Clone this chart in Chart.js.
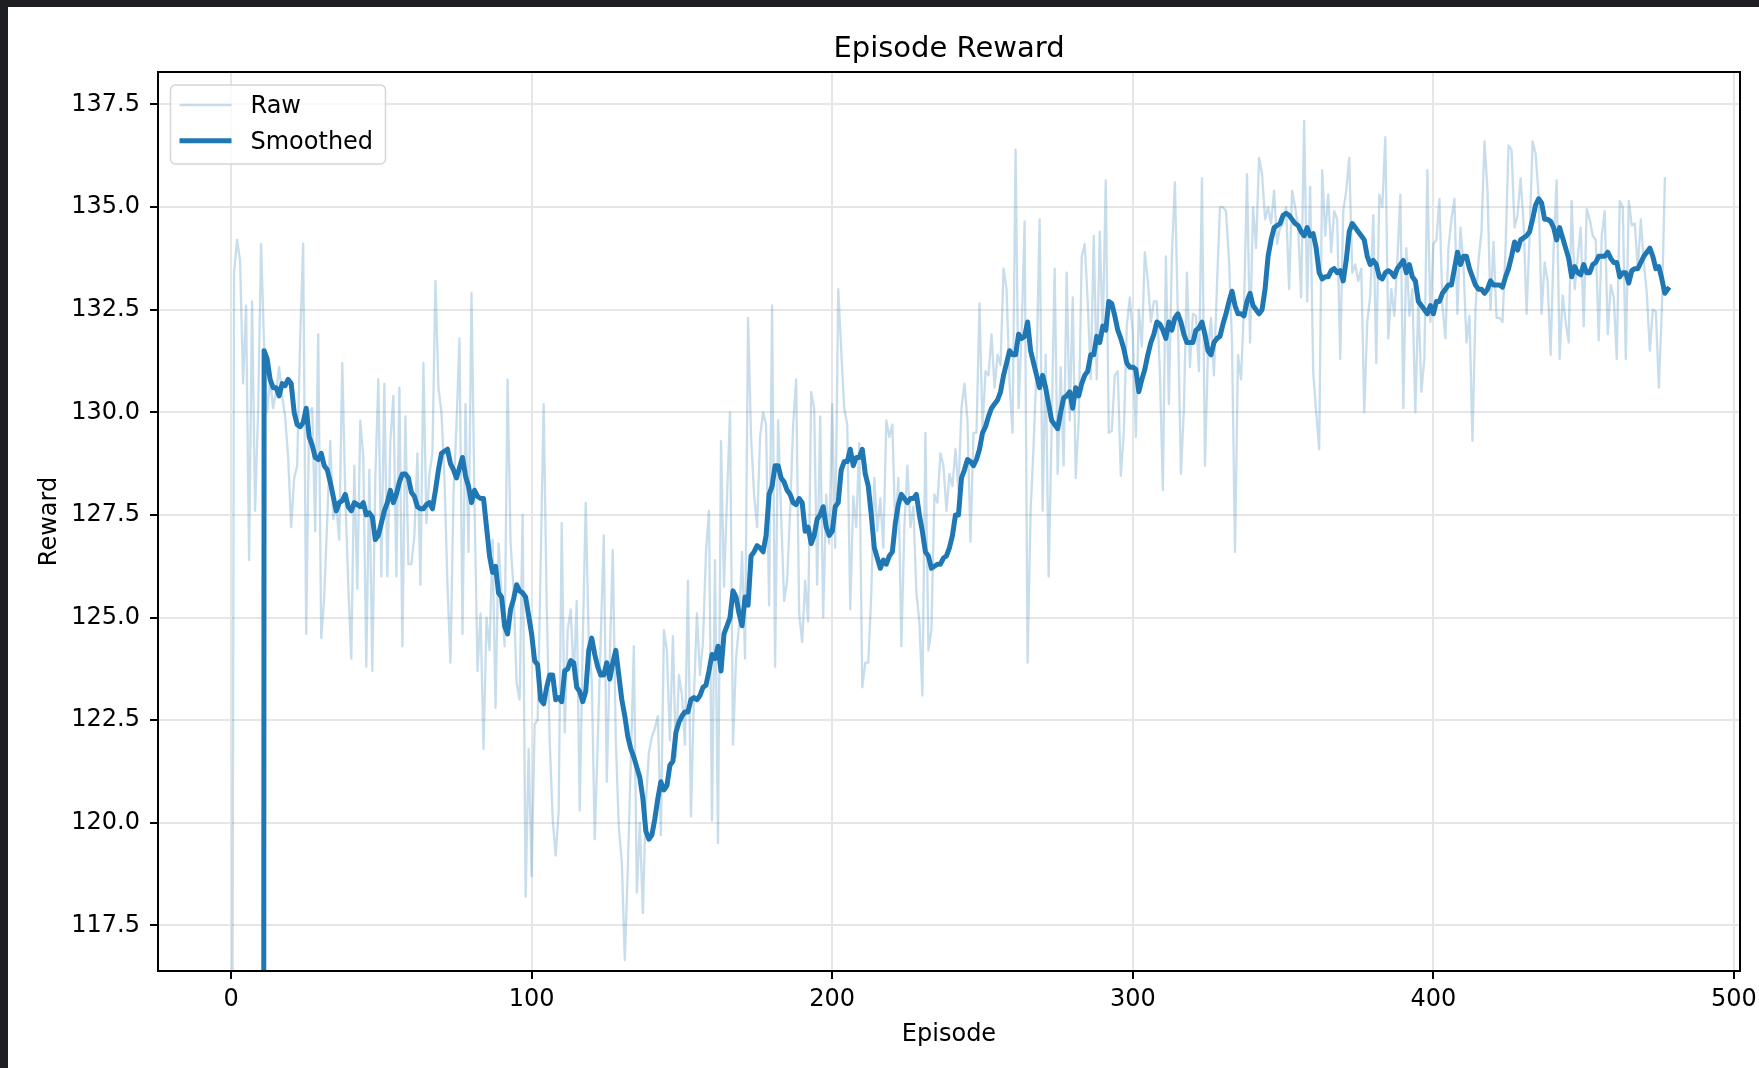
<!DOCTYPE html>
<html>
<head>
<meta charset="utf-8">
<script src="https://cdn.jsdelivr.net/npm/chart.js@4.4.1/dist/chart.umd.min.js"></script>
<style>
  html, body { margin: 0; padding: 0; background: #1e1f22; overflow: hidden; }
  #wrap { position: absolute; left: 8px; top: 7px; width: 1751px; height: 1061px; background: #fff; }
  canvas { display: block; }
</style>
</head>
<body>
<div id="wrap"><canvas id="chart" width="1751" height="1061"></canvas></div>
<script>
// reward per episode (index = episode)
const rawReward = [
  100, 133.4, 134.2, 133.7, 130.7, 132.6, 126.4, 132.7, 127.6, 130.0,
  134.1, 131.6, 130.0, 130.8, 130.1, 130.5, 131.1, 130.4, 129.9, 128.9,
  127.2, 128.4, 128.7, 131.8, 134.1, 124.6, 130.0, 130.1, 127.1, 131.9,
  124.5, 125.5, 127.4, 129.3, 127.4, 127.7, 126.9, 131.2, 128.0, 125.8,
  124.0, 128.7, 125.7, 129.8, 128.9, 123.8, 128.6, 123.7, 128.4, 130.8,
  126.0, 130.7, 126.0, 129.3, 130.4, 126.0, 130.6, 124.3, 129.9, 126.3,
  126.3, 127.0, 129.0, 125.8, 131.2, 127.3, 128.5, 129.0, 133.2, 130.6,
  130.0, 128.4, 125.8, 123.9, 128.0, 129.7, 131.8, 124.6, 130.2, 126.6,
  132.9, 127.8, 123.7, 125.1, 121.8, 125.0, 124.2, 126.9, 122.8, 126.8,
  125.5, 124.3, 130.8, 126.8, 125.7, 123.4, 123.0, 127.5, 118.2, 121.8,
  118.7, 122.4, 122.5, 126.3, 130.2, 125.4, 122.0, 120.1, 119.2, 120.3,
  127.3, 122.2, 124.7, 125.2, 123.5, 125.4, 120.3, 124.4, 127.8, 124.4,
  123.5, 119.6, 122.0, 124.5, 127.0, 121.0, 124.0, 126.65, 122.0, 119.9,
  119.05, 116.65, 118.9, 121.5, 124.3, 118.3, 120.0, 117.8, 120.5, 121.7,
  122.1, 122.3, 122.6, 119.7, 124.7, 124.2, 122.0, 124.55, 121.6, 123.6,
  123.1, 121.9, 125.9, 120.15, 123.1, 125.1, 123.6, 124.4, 126.6, 127.6,
  120.05, 126.4, 119.5, 129.3, 125.75, 127.9, 130.0, 121.9, 124.0, 124.8,
  126.6, 124.0, 132.3, 129.4, 128.0, 127.2, 129.4, 130.0, 129.7, 125.3,
  132.6, 123.8, 129.8, 127.5, 125.4, 125.9, 127.6, 129.7, 130.8, 125.1,
  124.4, 125.9, 124.9, 130.5, 130.1, 125.8, 129.9, 125.0, 128.0, 126.8,
  130.2, 126.7, 133.0, 131.5, 130.1, 129.7, 125.2, 127.95, 127.2, 129.25,
  123.3, 123.9, 123.9, 125.6, 128.4, 127.1, 127.9, 126.7, 129.8, 129.4,
  129.7, 127.1, 128.4, 124.3, 127.2, 128.7, 127.2, 127.7, 125.6, 124.9,
  123.1, 129.5, 124.2, 124.7, 128.0, 127.8, 129.0, 128.7, 127.6, 128.5,
  128.2, 129.1, 128.1, 130.1, 130.7, 129.8, 126.85, 129.5, 129.5, 132.65,
  129.6, 131.0, 130.9, 131.9, 130.6, 131.4, 131.15, 133.5, 133.0, 130.7,
  129.5, 136.4, 130.1, 131.9, 134.65, 123.9, 127.6, 129.2, 131.15, 134.7,
  127.6, 131.4, 126.0, 129.6, 133.5, 128.5, 131.1, 128.7, 133.4, 129.8,
  132.8, 128.4, 129.8, 133.8, 134.1, 132.7, 130.8, 134.3, 130.8, 134.4,
  131.85, 135.65, 129.5, 129.55, 130.9, 131.0, 128.45, 129.5, 132.1, 132.8,
  131.9, 129.4, 132.5, 131.6, 133.9, 133.2, 132.2, 132.7, 132.7, 131.0,
  128.1, 133.8, 130.2, 133.8, 135.6, 132.35, 128.5, 130.1, 133.4, 131.1,
  132.4, 132.35, 131.0, 135.7, 128.7, 131.45, 132.3, 130.9, 133.1, 135.0,
  135.0, 134.9, 133.7, 131.7, 126.6, 131.4, 130.8, 132.6, 135.8, 131.7,
  135.0, 134.0, 136.2, 135.8, 134.7, 135.0, 134.6, 135.4, 134.1, 134.5,
  134.6, 135.0, 133.0, 135.4, 135.0, 134.5, 132.8, 137.1, 132.7, 135.5,
  131.0, 130.0, 129.1, 135.9, 134.3, 135.3, 133.9, 134.9, 134.7, 131.3,
  134.9, 135.4, 136.2, 133.4, 133.6, 133.2, 133.5, 130.0, 132.2, 132.85,
  134.8, 131.2, 135.3, 135.0, 136.7, 131.8, 133.0, 132.35, 133.7, 135.3,
  130.1, 134.0, 132.35, 133.0, 130.0, 132.8, 130.5, 131.3, 135.9, 132.2,
  134.1, 134.2, 135.2, 132.6, 131.8, 134.0, 134.7, 135.2, 132.4, 134.5,
  133.6, 131.7, 132.35, 129.3, 132.5, 133.7, 134.4, 136.6, 135.4, 132.5,
  134.15, 132.3, 132.3, 132.2, 134.0, 136.5, 136.4, 134.5, 134.8, 135.7,
  134.6, 132.4, 134.3, 136.6, 136.3, 135.3, 132.4, 133.65, 133.2, 131.4,
  134.0, 135.65, 131.3, 132.85, 132.2, 131.7, 135.15, 133.0, 133.75, 134.5,
  132.1, 134.95, 134.7, 134.3, 134.2, 131.75, 134.3, 134.9, 131.9, 133.1,
  132.8, 131.3, 135.15, 135.0, 131.3, 135.15, 134.55, 134.6, 133.5, 134.7,
  133.65, 132.9, 131.5, 132.5, 132.45, 130.6, 132.5, 135.7
];

// smoothed curve (index = episode), zero until the window fills
const smoothReward = [
  0, 0, 0, 0, 0, 0, 0, 0, 0, 0, 0,
  131.5, 131.3, 130.8, 130.6, 130.6, 130.4, 130.7, 130.65, 130.8,
  130.7, 130.0, 129.7, 129.65, 129.75, 130.1, 129.4, 129.2, 128.9, 128.85,
  129.0, 128.7, 128.6, 128.3, 127.95, 127.6, 127.8, 127.85, 128.0, 127.7,
  127.6, 127.8, 127.75, 127.7, 127.8, 127.5, 127.55, 127.45, 126.9, 127.0,
  127.3, 127.6, 127.8, 128.1, 127.8, 128.0, 128.3, 128.5, 128.5, 128.4,
  128.05, 127.95, 127.7, 127.65, 127.65, 127.75, 127.8, 127.65, 128.1, 128.6,
  129.0, 129.05, 129.1, 128.75, 128.6, 128.4, 128.65, 128.9, 128.45, 128.2,
  127.8, 128.1, 127.95, 127.9, 127.9, 127.2, 126.5, 126.1, 126.25, 125.6,
  125.5, 124.8, 124.6, 125.2, 125.45, 125.8, 125.65, 125.6, 125.5, 125.05,
  124.6, 123.95, 123.85, 123.0, 122.9, 123.3, 123.6, 123.6, 123.0, 123.05,
  122.95, 123.7, 123.75, 123.95, 123.9, 123.3, 123.2, 122.95, 123.2, 124.2,
  124.5, 124.1, 123.8, 123.6, 123.6, 123.9, 123.5, 123.9, 124.2, 123.6,
  123.0, 122.6, 122.1, 121.8, 121.6, 121.35, 121.1, 120.6, 119.8, 119.6,
  119.7, 120.1, 120.6, 121.0, 120.8, 120.9, 121.4, 121.5, 122.2, 122.45,
  122.6, 122.7, 122.7, 123.0, 123.05, 123.0, 123.1, 123.3, 123.35, 123.7,
  124.1, 124.0, 124.3, 123.7, 124.6, 124.8, 125.0, 125.65, 125.5, 125.1,
  124.8, 125.5, 125.3, 126.5, 126.6, 126.75, 126.7, 126.6, 127.0, 128.0,
  128.2, 128.7, 128.7, 128.4, 128.3, 128.1, 128.0, 127.8, 127.75, 127.9,
  127.8, 127.1, 127.2, 126.8, 127.0, 127.4, 127.5, 127.7, 127.2, 127.0,
  127.1, 127.7, 127.8, 128.6, 128.8, 128.8, 129.1, 128.7, 128.9, 128.9,
  129.1, 128.5, 128.2, 127.5, 126.7, 126.45, 126.2, 126.4, 126.3, 126.5,
  126.6, 127.3, 127.75, 128.0, 127.9, 127.8, 127.9, 127.9, 128.0, 127.5,
  127.1, 126.6, 126.5, 126.2, 126.25, 126.3, 126.3, 126.45, 126.5, 126.7,
  127.0, 127.5, 127.5, 128.4, 128.6, 128.85, 128.8, 128.7, 128.85, 129.1,
  129.5, 129.65, 129.9, 130.1, 130.2, 130.3, 130.5, 130.9, 131.2, 131.5,
  131.4, 131.4, 131.9, 131.8, 131.85, 132.2, 131.5, 131.2, 130.9, 130.6,
  130.9, 130.6, 130.2, 129.8, 129.7, 129.6, 130.0, 130.35, 130.4, 130.5,
  130.1, 130.6, 130.4, 130.7, 130.9, 131.0, 131.4, 131.4, 131.85, 131.7,
  132.1, 132.0, 132.7, 132.65, 132.35, 132.0, 131.8, 131.55, 131.2, 131.1,
  131.1, 131.05, 130.5, 130.8, 131.05, 131.4, 131.7, 131.9, 132.2, 132.15,
  132.0, 131.8, 132.2, 132.0, 132.3, 132.4, 132.2, 131.9, 131.7, 131.7,
  131.7, 132.0, 132.05, 132.2, 131.9, 131.5, 131.4, 131.7, 131.8, 131.85,
  132.15, 132.4, 132.7, 132.95, 132.6, 132.4, 132.4, 132.35, 132.7, 132.9,
  132.6, 132.5, 132.4, 132.5, 133.0, 133.8, 134.2, 134.5, 134.55, 134.6,
  134.8, 134.85, 134.8, 134.7, 134.6, 134.55, 134.4, 134.3, 134.5, 134.3,
  134.35, 134.0, 133.4, 133.25, 133.3, 133.3, 133.45, 133.5, 133.4, 133.45,
  133.2, 133.7, 134.4, 134.6, 134.5, 134.4, 134.3, 134.2, 133.8, 133.6,
  133.7, 133.6, 133.3, 133.25, 133.4, 133.45, 133.4, 133.3, 133.5, 133.6,
  133.7, 133.4, 133.6, 133.3, 133.2, 132.7, 132.6, 132.5, 132.4, 132.6,
  132.4, 132.7, 132.7, 132.9, 133.0, 133.1, 133.1, 133.5, 133.9, 133.6,
  133.8, 133.8, 133.5, 133.3, 133.1, 133.0, 133.0, 132.9, 133.0, 133.2,
  133.1, 133.1, 133.1, 133.05, 133.3, 133.5, 133.8, 134.15, 133.95, 134.2,
  134.25, 134.3, 134.4, 134.7, 135.05, 135.2, 135.1, 134.7, 134.7, 134.65,
  134.5, 134.2, 134.5, 134.25, 134.0, 133.75, 133.3, 133.55, 133.4, 133.35,
  133.6, 133.4, 133.4, 133.6, 133.65, 133.8, 133.8, 133.8, 133.9, 133.75,
  133.65, 133.65, 133.3, 133.4, 133.4, 133.15, 133.45, 133.5, 133.5, 133.65,
  133.8, 133.9, 134.0, 133.8, 133.5, 133.55, 133.25, 132.9, 133.0
];

const xTicks = [0, 100, 200, 300, 400, 500];
const yTicks = [117.5, 120.0, 122.5, 125.0, 127.5, 130.0, 132.5, 135.0, 137.5];
const xLimits = [-24.3, 502];
const yLimits = [116.39, 138.29];

Chart.defaults.font.family = "'DejaVu Sans', sans-serif";
Chart.defaults.color = '#000';

// matplotlib-like box, title and legend
const decorations = {
  id: 'decorations',
  afterDatasetsDraw(chart) {
    const { ctx, chartArea: a } = chart;
    ctx.save();
    ctx.strokeStyle = '#000';
    ctx.lineWidth = 2;
    ctx.strokeRect(a.left, a.top, a.right - a.left, a.bottom - a.top);

    ctx.fillStyle = '#000';
    ctx.font = "29px 'DejaVu Sans'";
    ctx.textAlign = 'center';
    ctx.textBaseline = 'middle';
    ctx.fillText('Episode Reward', (a.left + a.right) / 2, a.top - 23);

    // legend
    const bx = a.left + 12.5, by = a.top + 13, bw = 215, bh = 79;
    ctx.fillStyle = 'rgba(255,255,255,0.8)';
    ctx.strokeStyle = 'rgba(204,204,204,0.8)';
    ctx.lineWidth = 1.5;
    ctx.beginPath();
    ctx.roundRect(bx, by, bw, bh, 5);
    ctx.fill();
    ctx.stroke();
    ctx.font = "24px 'DejaVu Sans'";
    ctx.textAlign = 'left';
    const sorted = chart.data.datasets.slice().sort((p, q) => p.legendRank - q.legendRank);
    sorted.forEach((ds, i) => {
      const y = by + 20 + i * 35.7;
      ctx.strokeStyle = ds.borderColor;
      ctx.lineWidth = ds.borderWidth;
      ctx.beginPath();
      ctx.moveTo(bx + 9, y);
      ctx.lineTo(bx + 61, y);
      ctx.stroke();
      ctx.fillStyle = '#000';
      ctx.fillText(ds.label, bx + 80, y + 2);
    });
    ctx.restore();
  }
};

const gridStyle = {
  color: '#e6e6e6',
  lineWidth: 2,
  tickColor: '#000',
  tickLength: 8,
  tickWidth: 2
};

new Chart(document.getElementById('chart'), {
  type: 'line',
  data: {
    datasets: [
      {
        label: 'Smoothed',
        legendRank: 1,
        data: smoothReward.map((v, i) => ({ x: i, y: v })),
        borderColor: '#1f77b4',
        borderWidth: 5,
        pointRadius: 0,
        tension: 0,
        borderJoinStyle: 'round',
        borderCapStyle: 'square',
        clip: 0,
        order: 1
      },
      {
        label: 'Raw',
        legendRank: 0,
        data: rawReward.map((v, i) => ({ x: i, y: v })),
        borderColor: 'rgba(31,119,180,0.25)',
        borderWidth: 2.3,
        pointRadius: 0,
        tension: 0,
        borderJoinStyle: 'round',
        borderCapStyle: 'square',
        clip: 0,
        order: 2
      }
    ]
  },
  options: {
    responsive: false,
    animation: false,
    devicePixelRatio: 1,
    layout: { padding: { left: 0, top: 65, right: 19, bottom: 0 } },
    plugins: { legend: { display: false }, tooltip: { enabled: false } },
    scales: {
      x: {
        type: 'linear',
        position: 'bottom',
        min: xLimits[0],
        max: xLimits[1],
        afterBuildTicks: s => { s.ticks = xTicks.map(v => ({ value: v })); },
        afterFit: s => { s.height = 97; s.paddingLeft = 0; s.paddingRight = 0; },
        ticks: {
          autoSkip: false,
          maxRotation: 0,
          padding: 6,
          font: { size: 24 },
          callback: v => String(v)
        },
        grid: gridStyle,
        border: { display: false },
        title: { display: true, text: 'Episode', font: { size: 24 }, padding: { top: 0, bottom: 19 } }
      },
      y: {
        type: 'linear',
        position: 'left',
        min: yLimits[0],
        max: yLimits[1],
        afterBuildTicks: s => { s.ticks = yTicks.map(v => ({ value: v })); },
        afterFit: s => { s.width = 150; s.paddingTop = 0; s.paddingBottom = 0; },
        ticks: {
          autoSkip: false,
          padding: 10,
          font: { size: 24 },
          callback: v => v.toFixed(1)
        },
        grid: gridStyle,
        border: { display: false },
        title: { display: true, text: 'Reward', font: { size: 24 }, padding: { top: 27, bottom: 0 } }
      }
    }
  },
  plugins: [decorations]
});
</script>
</body>
</html>
